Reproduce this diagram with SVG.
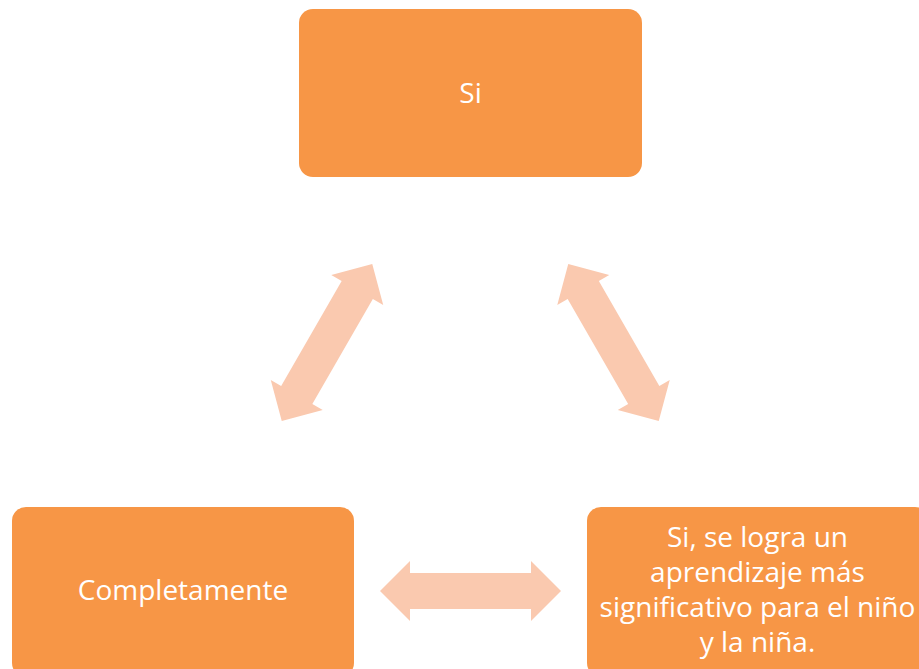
<svg xmlns="http://www.w3.org/2000/svg" width="919" height="669" viewBox="0 0 919 669">
  <style>
    .box { fill: #F79646; }
    .lbl { fill: #FFFFFF; font-family: "Open Sans", "Liberation Sans", sans-serif; font-size: 28px; text-anchor: middle; }
    .arr { fill: #FAC9AF; }
  </style>
  <defs>
    <path id="dblarrow" d="M -90.5 0 L -60.5 -30 L -60.5 -18 L 60.5 -18 L 60.5 -30 L 90.5 0 L 60.5 30 L 60.5 18 L -60.5 18 L -60.5 30 Z"/>
  </defs>
  <rect width="919" height="669" fill="#FFFFFF"/>
  <g id="connectors">
    <use href="#dblarrow" class="arr" transform="translate(327 342.5) rotate(-60)"/>
    <use href="#dblarrow" class="arr" transform="translate(613.5 342.5) rotate(60)"/>
    <use href="#dblarrow" class="arr" transform="translate(470.5 591)"/>
  </g>
  <g id="node-si">
    <rect class="box" x="299" y="9" width="343" height="168" rx="14"/>
    <text class="lbl" x="470.5" y="103">Si</text>
  </g>
  <g id="node-completamente">
    <rect class="box" x="12" y="507" width="342" height="170" rx="14"/>
    <text class="lbl" x="183" y="600">Completamente</text>
  </g>
  <g id="node-aprendizaje">
    <rect class="box" x="587" y="507" width="342" height="170" rx="14"/>
    <text class="lbl" x="757.5" y="547">Si, se logra un</text>
    <text class="lbl" x="757.5" y="582">aprendizaje más</text>
    <text class="lbl" x="757.5" y="617">significativo para el niño</text>
    <text class="lbl" x="757.5" y="652">y la niña.</text>
  </g>
</svg>
